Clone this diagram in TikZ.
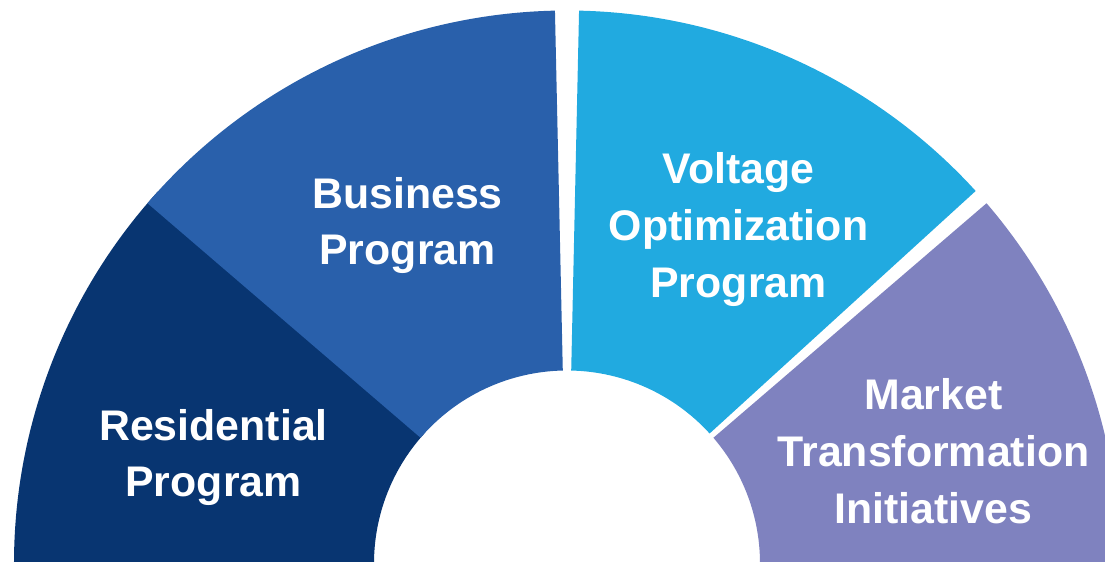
\documentclass[tikz,border=0pt]{standalone}
\usepackage{fontspec}
\setmainfont{Liberation Sans}
\definecolor{resblue}{RGB}{8,53,113}
\definecolor{busblue}{RGB}{41,96,171}
\definecolor{voltblue}{RGB}{33,170,224}
\definecolor{mktpurple}{RGB}{127,130,191}

\begin{document}
\begin{tikzpicture}[x=1bp, y=1bp,
    lbl/.style={text=white, align=center, inner sep=0pt,
      font=\fontsize{43}{57}\selectfont\bfseries}]
    \useasboundingbox (0,0) rectangle (1105,562);
    \clip (0,0) rectangle (1105,562);
    \coordinate (O) at (567,-1.5);
    \def\rin{193bp}
    \def\rout{553bp}

    % ring segments
    \fill[resblue, shift={(O)}] (182:\rin) arc[start angle=182, end angle=137.65, radius=\rin]
      -- (137.65:\rout) arc[start angle=137.65, end angle=182, radius=\rout] -- cycle;
    \fill[busblue, shift={(O)}] (139.35:\rin) arc[start angle=139.35, end angle=91.25, radius=\rin]
      -- (91.25:\rout) arc[start angle=91.25, end angle=139.35, radius=\rout] -- cycle;
    \fill[voltblue, shift={(O)}] (88.75:\rin) arc[start angle=88.75, end angle=42.35, radius=\rin]
      -- (42.35:\rout) arc[start angle=42.35, end angle=88.75, radius=\rout] -- cycle;
    \fill[mktpurple, shift={(O)}] (40.65:\rin) arc[start angle=40.65, end angle=-2, radius=\rin]
      -- (-2:\rout) arc[start angle=-2, end angle=40.65, radius=\rout] -- cycle;

    \node[lbl] (R) at (213.5,104.5) {Residential\\Program};
    \node[lbl] (B) at (407.5,336.5) {Business\\Program};
    \node[lbl] (V) at (738.5,332.5) {Voltage\\Optimization\\Program};
    \node[lbl] (M) at (933.5,111) {Market\\Transformation\\Initiatives};
\end{tikzpicture}
\end{document}
